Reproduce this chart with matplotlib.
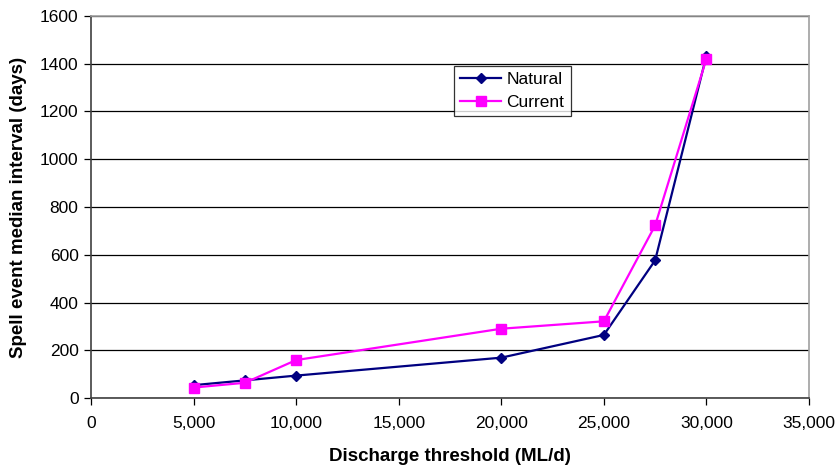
import matplotlib
matplotlib.use("Agg")
import matplotlib.pyplot as plt
from matplotlib.ticker import FuncFormatter, MultipleLocator

plt.rcParams['font.family'] = ['Liberation Sans', 'DejaVu Sans']

thresholds = [5000, 7500, 10000, 20000, 25000, 27500, 30000]
natural = [55, 75, 95, 170, 265, 577, 1433]
current = [45, 65, 160, 291, 322, 723, 1420]

fig = plt.figure(figsize=(8.36, 4.68), dpi=100)
ax = fig.add_axes([0.1089, 0.1489, 0.8588, 0.8176])

ax.plot(thresholds, natural, color='#000080', lw=1.6, marker='D', ms=5.5,
        label='Natural', zorder=3)
ax.plot(thresholds, current, color='#FF00FF', lw=1.6, marker='s', ms=6.5,
        label='Current', zorder=4)

ax.set_xlim(0, 35000)
ax.set_ylim(0, 1600)
ax.xaxis.set_major_locator(MultipleLocator(5000))
ax.yaxis.set_major_locator(MultipleLocator(200))
ax.xaxis.set_major_formatter(FuncFormatter(lambda v, p: f'{int(v):,}'))

ax.yaxis.grid(True, color='black', lw=0.9)
ax.set_axisbelow(True)

for s in ['top', 'right']:
    ax.spines[s].set_color('#a0a0a0')
    ax.spines[s].set_linewidth(1.2)
for s in ['left', 'bottom']:
    ax.spines[s].set_color('#404040')
    ax.spines[s].set_linewidth(1.2)

ax.tick_params(axis='both', direction='out', length=5, width=0.9,
               labelsize=12.5, colors='black', pad=4)
ax.tick_params(axis='x', pad=8)

ax.set_xlabel('Discharge threshold (ML/d)', fontsize=13.5, fontweight='bold',
              labelpad=12)
ax.set_ylabel('Spell event median interval (days)', fontsize=13.5,
              fontweight='bold', labelpad=9)

leg = ax.legend(loc='upper left', bbox_to_anchor=(0.505, 0.868),
                fontsize=12.5, frameon=True, fancybox=False,
                edgecolor='black', handlelength=2.4, borderpad=0.35,
                labelspacing=0.45, handletextpad=0.3, borderaxespad=0)
leg.get_frame().set_linewidth(0.9)

fig.savefig('out.png', dpi=100)
